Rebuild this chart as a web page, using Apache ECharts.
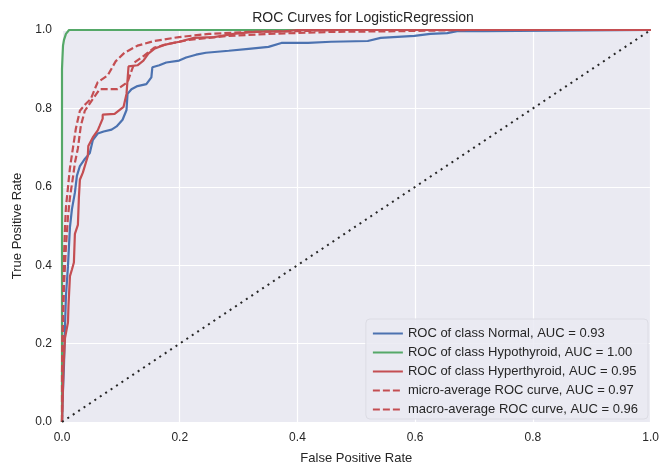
<!DOCTYPE html>
<html>
<head>
<meta charset="utf-8">
<script src="https://cdn.jsdelivr.net/npm/echarts@6/dist/echarts.min.js"></script>
<style>
  html, body { margin: 0; padding: 0; background: #ffffff; }
  #chart { width: 662px; height: 470px; }
</style>
</head>
<body>
<div id="chart"></div>
<script>
// ROC curves of a LogisticRegression classifier (thyroid classes)
const seriesNames = [
  'ROC of class Normal, AUC = 0.93',
  'ROC of class Hypothyroid, AUC = 1.00',
  'ROC of class Hyperthyroid, AUC = 0.95',
  'micro-average ROC curve, AUC = 0.97',
  'macro-average ROC curve, AUC = 0.96'
];
const tickLabels = ['0.0', '0.2', '0.4', '0.6', '0.8', '1.0'];

const normalFpr = [0, 0.0008, 0.0017, 0.0034, 0.0051, 0.0067, 0.0084, 0.0101, 0.0118, 0.0135, 0.0169, 0.0219, 0.0253, 0.0304, 0.0388, 0.0472, 0.0523, 0.0607, 0.0708, 0.0843, 0.0927, 0.1029, 0.1096, 0.1113, 0.118, 0.1282, 0.1433, 0.1518, 0.1535, 0.1653, 0.1771, 0.199, 0.2108, 0.2277, 0.2445, 0.2833, 0.317, 0.3508, 0.3727, 0.4182, 0.457, 0.5194, 0.5413, 0.5987, 0.6256, 0.6543, 0.6712, 0.7167, 0.72, 1];
const normalTpr = [0, 0.045, 0.083, 0.146, 0.246, 0.322, 0.359, 0.397, 0.447, 0.497, 0.543, 0.585, 0.628, 0.653, 0.671, 0.686, 0.719, 0.736, 0.741, 0.746, 0.754, 0.771, 0.796, 0.837, 0.849, 0.857, 0.862, 0.879, 0.905, 0.91, 0.917, 0.922, 0.93, 0.937, 0.942, 0.947, 0.952, 0.957, 0.967, 0.967, 0.97, 0.972, 0.98, 0.985, 0.99, 0.992, 0.997, 0.997, 1, 1];

const hypoFpr = [0, 0, 0.0008, 0.0017, 0.0034, 0.0067, 0.012, 1];
const hypoTpr = [0, 0.9, 0.93, 0.96, 0.975, 0.99, 1, 1];

const hyperFpr = [0, 0.0008, 0.0025, 0.0051, 0.0101, 0.011, 0.0135, 0.0169, 0.0202, 0.0219, 0.027, 0.0287, 0.0304, 0.0354, 0.0438, 0.0447, 0.0523, 0.0607, 0.0641, 0.0691, 0.0691, 0.0894, 0.0927, 0.1046, 0.1096, 0.113, 0.1282, 0.1383, 0.1467, 0.1568, 0.1737, 0.199, 0.2243, 0.258, 0.2917, 0.3255, 0.3811, 0.4013, 1];
const hyperTpr = [0, 0.038, 0.138, 0.214, 0.254, 0.296, 0.372, 0.389, 0.407, 0.48, 0.503, 0.573, 0.618, 0.636, 0.678, 0.704, 0.726, 0.744, 0.756, 0.774, 0.784, 0.786, 0.786, 0.804, 0.837, 0.907, 0.91, 0.922, 0.94, 0.952, 0.962, 0.97, 0.98, 0.982, 0.99, 0.995, 0.997, 1, 1];

const microFpr = [0, 0, 0.0008, 0.0017, 0.0034, 0.0051, 0.0067, 0.0101, 0.0135, 0.0185, 0.0236, 0.0304, 0.0405, 0.0489, 0.0556, 0.0607, 0.0776, 0.0911, 0.1062, 0.1282, 0.1568, 0.199, 0.2496, 0.317, 0.4013, 0.4688, 1];
const microTpr = [0, 0.121, 0.221, 0.322, 0.422, 0.497, 0.548, 0.598, 0.648, 0.698, 0.749, 0.794, 0.812, 0.824, 0.849, 0.867, 0.884, 0.92, 0.942, 0.96, 0.972, 0.982, 0.99, 0.995, 0.997, 1, 1];

const macroFpr = [0, 0.0008, 0.0017, 0.0034, 0.0067, 0.0101, 0.0135, 0.0185, 0.0219, 0.027, 0.032, 0.0388, 0.0523, 0.0641, 0.0944, 0.1113, 0.1231, 0.14, 0.1568, 0.1821, 0.2159, 0.2833, 0.3508, 0.4519, 0.57, 0.688, 1];
const macroTpr = [0, 0.146, 0.246, 0.347, 0.447, 0.523, 0.573, 0.623, 0.661, 0.698, 0.756, 0.794, 0.824, 0.849, 0.849, 0.867, 0.917, 0.935, 0.955, 0.965, 0.975, 0.985, 0.99, 0.995, 0.997, 1, 1];

const chanceFpr = [0, 1];
const chanceTpr = [0, 1];

const pairs = (xs, ys) => xs.map((x, i) => [x, ys[i]]);

const BLUE = '#4C72B0', GREEN = '#55A868', RED = '#C44E52';
const FONT = '"Liberation Sans", Arial, sans-serif';
const TEXT = '#262626';

function curve(name, xs, ys, color, dashed) {
  return {
    name: name,
    type: 'line',
    data: pairs(xs, ys),
    symbol: 'none',
    silent: true,
    animation: false,
    lineStyle: { color: color, width: 2.2, type: dashed ? [7, 3] : 'solid' },
    itemStyle: { color: color }
  };
}

const axisCommon = {
  type: 'value',
  min: 0,
  max: 1,
  interval: 0.2,
  axisLine: { show: false },
  axisTick: { show: false },
  splitLine: { show: true, lineStyle: { color: '#ffffff', width: 1.2 } },
  axisLabel: {
    color: TEXT,
    fontFamily: FONT,
    fontSize: 12,
    formatter: v => tickLabels[Math.round(v / 0.2)]
  },
  nameLocation: 'middle',
  nameTextStyle: { color: TEXT, fontFamily: FONT, fontSize: 13 }
};

const chart = echarts.init(document.getElementById('chart'), null, { renderer: 'canvas' });
chart.setOption({
  animation: false,
  backgroundColor: '#ffffff',
  title: {
    text: 'ROC Curves for LogisticRegression',
    left: 358,
    textAlign: 'center',
    top: 6,
    textStyle: { color: TEXT, fontFamily: FONT, fontSize: 14, fontWeight: 'normal' }
  },
  grid: {
    left: 62, right: 7, top: 30, bottom: 42,
    show: true, backgroundColor: '#EAEAF2', borderWidth: 0
  },
  xAxis: Object.assign({}, axisCommon, {
    name: 'False Positive Rate', nameGap: 30,
    axisLabel: Object.assign({}, axisCommon.axisLabel, { margin: 10 })
  }),
  yAxis: Object.assign({}, axisCommon, {
    name: 'True Positive Rate', nameGap: 27,
    axisLabel: Object.assign({}, axisCommon.axisLabel, { margin: 10, padding: [6, 0, 0, 0] })
  }),
  legend: {
    orient: 'vertical',
    right: 14,
    bottom: 51,
    itemWidth: 30,
    itemHeight: 13,
    itemGap: 6,
    padding: [8, 10, 3, 6],
    backgroundColor: 'rgba(234,234,242,0.85)',
    borderColor: '#dcdce4',
    borderWidth: 1,
    borderRadius: 4,
    itemStyle: { color: 'transparent', borderWidth: 0 },
    data: seriesNames,
    textStyle: { color: TEXT, fontFamily: FONT, fontSize: 13 }
  },
  series: [
    curve(seriesNames[0], normalFpr, normalTpr, BLUE, false),
    curve(seriesNames[1], hypoFpr, hypoTpr, GREEN, false),
    curve(seriesNames[2], hyperFpr, hyperTpr, RED, false),
    curve(seriesNames[3], microFpr, microTpr, RED, true),
    curve(seriesNames[4], macroFpr, macroTpr, RED, true),
    {
      type: 'line',
      data: pairs(chanceFpr, chanceTpr),
      symbol: 'none',
      silent: true,
      lineStyle: { color: '#262626', width: 2, type: [2, 4.5] }
    }
  ]
});
</script>
</body>
</html>
